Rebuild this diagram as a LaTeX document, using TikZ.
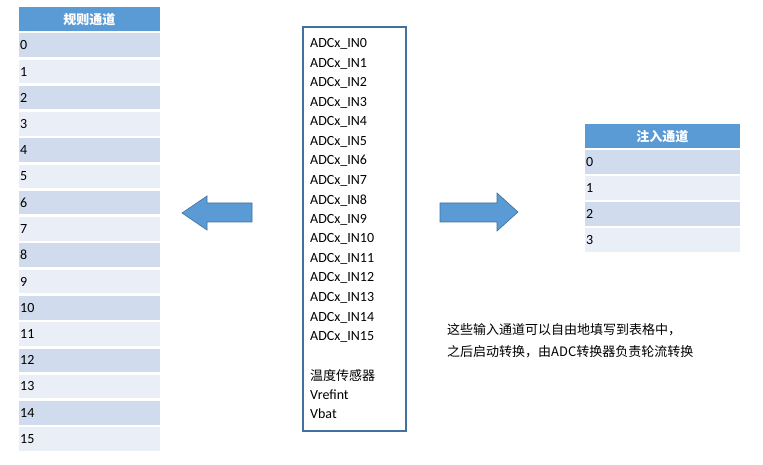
\documentclass[tikz,border=0pt]{standalone}
\usepackage{fontspec}
\setmainfont{Carlito}
\newfontfamily\cjk{Noto Sans CJK SC}
\definecolor{hdblue}{HTML}{5B9BD5}
\definecolor{rowdark}{HTML}{D0DBEE}
\definecolor{rowlight}{HTML}{E9EEF7}
\definecolor{edgeblue}{HTML}{41719C}
\tikzset{
  cell/.style={minimum height=25pt, inner sep=0pt, draw=white, line width=1.5pt, anchor=north west},
  head/.style={cell, fill=hdblue, font=\cjk\bfseries\fontsize{13}{15}\selectfont, text=white},
  num/.style={font=\fontsize{14}{16}\selectfont, anchor=west, inner sep=3pt},
  src/.style={font=\fontsize{14}{16}\selectfont, anchor=west, inner sep=0pt},
  cjktext/.style={src, font=\cjk\fontsize{13}{15}\selectfont},
  bigarrow/.style={fill=hdblue, draw=edgeblue, line width=0.6pt}
}
\begin{document}
\begin{tikzpicture}[x=1pt,y=-1pt]
  \useasboundingbox (0,0) rectangle (763,465);
  % regular channels
  \node[head, minimum width=143pt] (reg) at (17,6) {规则通道};
  \foreach \i in {0,...,15}{
    \pgfmathtruncatemacro{\odd}{mod(\i,2)}
    \ifnum\odd=0 \def\rowcol{rowdark}\else\def\rowcol{rowlight}\fi
    \node[cell, fill=\rowcol, minimum width=143pt] (r\i) at (17,32+26.25*\i) {};
    \node[num] at (r\i.west) {\i};
  }
  % injected channels
  \node[head, minimum width=157pt] (inj) at (583,123) {注入通道};
  \foreach \i in {0,...,3}{
    \pgfmathtruncatemacro{\odd}{mod(\i,2)}
    \ifnum\odd=0 \def\rowcol{rowdark}\else\def\rowcol{rowlight}\fi
    \node[cell, fill=\rowcol, minimum width=157pt] (j\i) at (583,149+26*\i) {};
    \node[num] at (j\i.west) {\i};
  }
  % input sources
  \draw[edgeblue, line width=2pt] (303,27) rectangle (406,431);
  \foreach \i in {0,...,15}{
    \node[src] (in\i) at (310,44+19.53*\i) {ADCx\_IN\i};
  }
  \node[cjktext] (temp) at (310,376) {温度传感器};
  \node[src] (vref) at (310,395) {Vrefint};
  \node[src] (vbat) at (310,414) {Vbat};
  % arrows
  \draw[bigarrow] (182,213) -- (207,196) -- (207,203) -- (252,203) -- (252,222) -- (207,222) -- (207,230) -- cycle;
  \draw[bigarrow] (518,212) -- (497,193) -- (497,203) -- (440,203) -- (440,222) -- (497,222) -- (497,231) -- cycle;
  % note
  \node[cjktext] (note1) at (447,330) {这些输入通道可以自由地填写到表格中，};
  \node[cjktext] (note2) at (447,352) {之后启动转换，由ADC转换器负责轮流转换};
\end{tikzpicture}
\end{document}
